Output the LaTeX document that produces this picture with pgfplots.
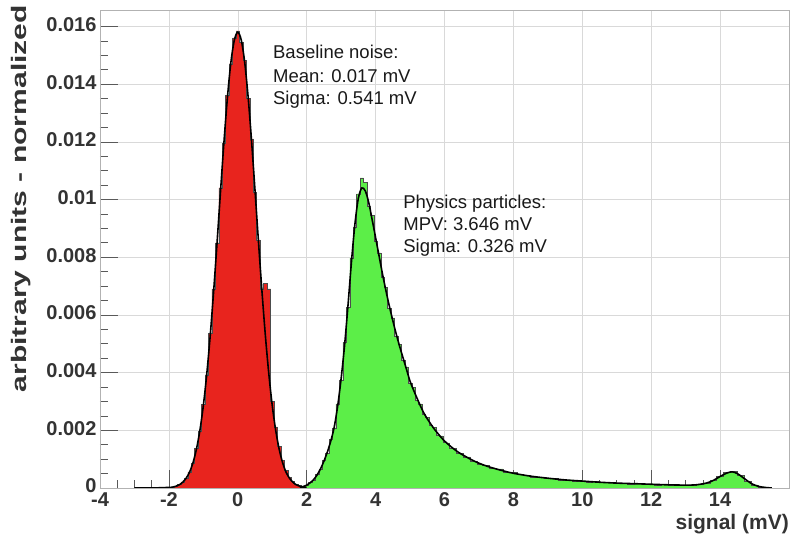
\documentclass[border=0pt]{standalone}
\usepackage{fontspec}
\setmainfont{Liberation Sans}
\usepackage{graphicx}
\usepackage{pgfplots}
\usepackage{pgfplotstable}
\pgfplotsset{compat=1.18}
\definecolor{histred}{RGB}{232,36,30}
\definecolor{histgreen}{RGB}{92,238,72}
\pgfplotsset{layers/rootlike/.define layer set={axis background,axis grid,pre main,main,axis ticks,axis lines,axis tick labels,axis descriptions,axis foreground}{}}

% baseline noise histogram (bin centres)
\pgfplotstableread{
x y
-2.0 0.00002
-1.9 0.00003
-1.8 0.00006
-1.7 0.00012
-1.6 0.00021
-1.5 0.00033
-1.4 0.00056
-1.3 0.00086
-1.2 0.00138
-1.1 0.00196
-1.0 0.00290
-0.9 0.00392
-0.8 0.00535
-0.7 0.00690
-0.6 0.00850
-0.5 0.01040
-0.4 0.01195
-0.3 0.01360
-0.2 0.01470
-0.1 0.01560
0.0 0.01585
0.1 0.01545
0.2 0.01482
0.3 0.01350
0.4 0.01210
0.5 0.01025
0.6 0.00860
0.7 0.00690
0.8 0.00710
0.9 0.00690
1.0 0.00300
1.1 0.00212
1.2 0.00145
1.3 0.00095
1.4 0.00060
1.5 0.00038
1.6 0.00022
1.7 0.00013
1.8 0.00008
1.9 0.00004
2.0 0.00002
}\redhist

% gaussian fit
\pgfplotstableread{
x y
-3.0 0.0
-2.5 0.0
-2.0 0.00002
-1.9 0.00003
-1.8 0.00006
-1.7 0.00011
-1.6 0.00020
-1.5 0.00034
-1.4 0.00055
-1.3 0.00088
-1.2 0.00135
-1.1 0.00200
-1.0 0.00286
-0.9 0.00396
-0.8 0.00529
-0.7 0.00684
-0.6 0.00854
-0.5 0.01031
-0.4 0.01202
-0.3 0.01355
-0.2 0.01476
-0.1 0.01553
0.0 0.01580
0.1 0.01553
0.2 0.01476
0.3 0.01355
0.4 0.01202
0.5 0.01031
0.6 0.00854
0.7 0.00684
0.8 0.00529
0.9 0.00396
1.0 0.00286
1.1 0.00200
1.2 0.00135
1.3 0.00088
1.4 0.00055
1.5 0.00034
1.6 0.00020
1.7 0.00011
1.8 0.00006
1.9 0.00003
2.0 0.00002
}\redfit

% physics particles histogram (bin centres)
\pgfplotstableread{
x y
1.8 0.00002
1.9 0.00006
2.0 0.00009
2.1 0.00020
2.2 0.00027
2.3 0.00048
2.4 0.00064
2.5 0.00097
2.6 0.00121
2.7 0.00168
2.8 0.00208
2.9 0.00292
3.0 0.00372
3.1 0.00505
3.2 0.00626
3.3 0.00798
3.4 0.00905
3.5 0.01020
3.6 0.01075
3.7 0.01060
3.8 0.00975
3.9 0.00945
4.0 0.00855
4.1 0.00815
4.2 0.00730
4.3 0.00695
4.4 0.00622
4.5 0.00590
4.6 0.00525
4.7 0.00498
4.8 0.00442
4.9 0.00420
5.0 0.00362
5.1 0.00348
5.2 0.00305
5.3 0.00292
5.4 0.00254
5.5 0.00246
5.6 0.00216
5.7 0.00211
5.8 0.00184
5.9 0.00181
6.0 0.00158
6.1 0.00156
6.2 0.00138
6.3 0.00137
6.4 0.00120
6.5 0.00121
6.6 0.00106
6.7 0.00108
6.8 0.00094
6.9 0.00093
7.0 0.00084
7.2 0.00079
7.4 0.00067
7.6 0.00066
7.8 0.00056
8.0 0.00054
8.2 0.00046
8.4 0.00045
8.6 0.00038
8.8 0.00038
9.0 0.00033
9.2 0.00033
9.4 0.00027
9.6 0.00028
9.8 0.00024
10.0 0.00025
10.2 0.00021
10.4 0.00022
10.6 0.00019
10.8 0.00019
11.0 0.00016
11.2 0.00017
11.4 0.00014
11.6 0.00015
11.8 0.00012
12.0 0.00014
12.2 0.00011
12.4 0.00012
12.6 0.00010
12.8 0.00011
13.0 0.00009
13.2 0.00011
13.4 0.00013
13.6 0.00018
13.8 0.00027
14.0 0.00041
14.2 0.00054
14.4 0.00058
14.6 0.00044
14.8 0.00024
15.0 0.00011
15.2 0.00004
15.4 0.00001
}\greenhist

% landau (x) gauss fit
\pgfplotstableread{
x y
1.8 0.00002
1.9 0.00005
2.0 0.00010
2.1 0.00018
2.2 0.00029
2.3 0.00045
2.4 0.00066
2.5 0.00093
2.6 0.00125
2.7 0.00163
2.8 0.00212
2.9 0.00285
3.0 0.00380
3.1 0.00495
3.2 0.00635
3.3 0.00785
3.4 0.00915
3.5 0.01005
3.6 0.01040
3.7 0.01030
3.8 0.00990
3.9 0.00930
4.0 0.00868
4.1 0.00805
4.2 0.00742
4.3 0.00684
4.4 0.00630
4.5 0.00580
4.6 0.00533
4.7 0.00490
4.8 0.00450
4.9 0.00410
5.0 0.00370
5.1 0.00340
5.2 0.00312
5.3 0.00285
5.4 0.00260
5.5 0.00240
5.6 0.00222
5.7 0.00205
5.8 0.00190
5.9 0.00176
6.0 0.00163
6.2 0.00142
6.4 0.00124
6.6 0.00110
6.8 0.00097
7.0 0.00086
7.25 0.00075
7.5 0.00066
7.75 0.00058
8.0 0.00051
8.5 0.00041
9.0 0.00034
9.5 0.00028
10.0 0.00024
10.5 0.00020
11.0 0.00017
11.5 0.00015
12.0 0.00013
12.5 0.00011
13.0 0.00010
13.3 0.00011
13.6 0.00017
13.8 0.00026
14.0 0.00040
14.2 0.00052
14.35 0.00056
14.5 0.00050
14.7 0.00033
14.9 0.00016
15.1 0.00006
15.3 0.00002
15.5 0.0
}\greenfit

\begin{document}
\begin{tikzpicture}
\begin{axis}[
  name=ax,
  set layers=rootlike,
  width=689pt, height=478pt, scale only axis,
  xmin=-4, xmax=16, ymin=0, ymax=0.01657,
  xtick={-4,-2,0,2,4,6,8,10,12,14},
  xticklabels={-4,-2,0,2,4,6,8,10,12,14},
  ytick={0,0.002,0.004,0.006,0.008,0.01,0.012,0.014,0.016},
  yticklabels={0,0.002,0.004,0.006,0.008,0.01,0.012,0.014,0.016},
  scaled y ticks=false,
  minor x tick num=3, minor y tick num=3,
  tick align=inside, xtick pos=bottom, ytick pos=left,
  major tick length=18pt, minor tick length=8pt,
  axis line style={gray!60, line width=0.8pt},
  every tick/.style={gray!70!black, line width=0.6pt},
  grid=major, major grid style={gray!30, line width=0.6pt},
  ticklabel style={font=\bfseries\fontsize{20}{20}\selectfont, text=black!80},
  xticklabel style={yshift=-1pt},
  yticklabel style={yshift=2pt},
  xlabel={signal (mV)},
  ylabel={\scalebox{1.43}[1]{arbitrary units - normalized}},
  xlabel style={at={(axis description cs:1,-0.054)}, anchor=north east, inner sep=0pt,
    font=\bfseries\fontsize{21}{21}\selectfont, text=black!80},
  ylabel style={at={(axis description cs:-0.1002,1.0105)}, anchor=south east, inner sep=0pt,
    font=\bfseries\fontsize{21}{21}\selectfont, text=black!80},
]
\addplot[fill=histred, draw=black!70, line width=0.5pt, const plot mark mid] table[x=x,y=y] {\redhist} \closedcycle;
\addplot[fill=histgreen, draw=black!70, line width=0.5pt, const plot mark mid] table[x=x,y=y] {\greenhist} \closedcycle;
\addplot[black, line width=1.6pt, smooth] table[x=x,y=y] {\redfit};
\addplot[black, line width=1.6pt, smooth] table[x=x,y=y] {\greenfit};

\begin{scope}[every node/.style={anchor=base west, inner sep=0pt, font=\fontsize{18.5}{22}\selectfont, text=black!90}]
\node at (axis cs:1.02,0.01490) {Baseline noise:};
\node at (axis cs:1.02,0.01407) {Mean: 0.017 mV};
\node at (axis cs:1.02,0.01328) {Sigma: 0.541 mV};
\node at (axis cs:4.80,0.00970) {Physics particles:};
\node at (axis cs:4.80,0.00894) {MPV: 3.646 mV};
\node at (axis cs:4.80,0.00815) {Sigma: 0.326 mV};
\end{scope}
\end{axis}
\path ([shift={(-100pt,-47pt)}]ax.south west) rectangle ([shift={(3pt,10pt)}]ax.north east);
\end{tikzpicture}
\end{document}
